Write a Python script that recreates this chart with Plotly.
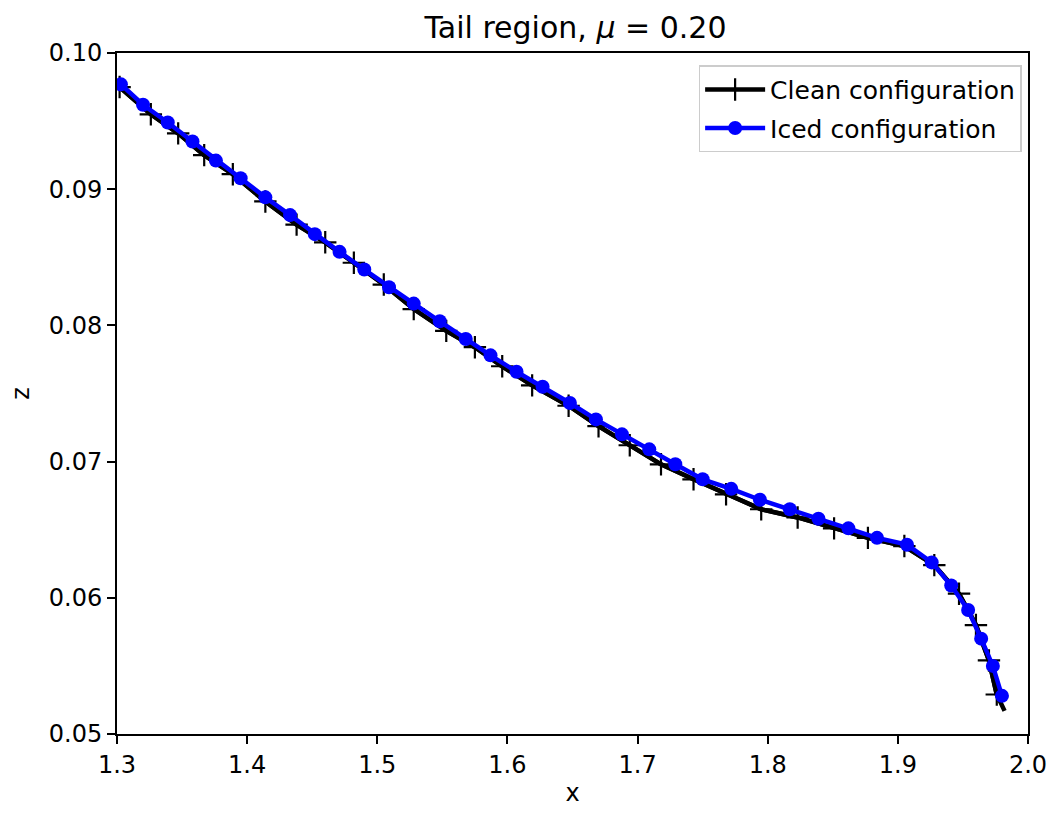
import plotly.graph_objects as go

# Clean configuration
clean_x = [1.302, 1.326, 1.347, 1.367, 1.389, 1.414, 1.438, 1.460, 1.482, 1.505,
           1.528, 1.553, 1.575, 1.596, 1.619, 1.647, 1.670, 1.694, 1.718, 1.743,
           1.768, 1.795, 1.823, 1.851, 1.877, 1.905, 1.928, 1.947, 1.960, 1.970,
           1.976, 1.982]
clean_z = [0.0975, 0.0955, 0.0941, 0.0925, 0.0911, 0.0891, 0.0874, 0.0861, 0.0846, 0.0830,
           0.0812, 0.0796, 0.0784, 0.0770, 0.0756, 0.0741, 0.0726, 0.0712, 0.0698, 0.0687,
           0.0676, 0.0665, 0.0659, 0.0651, 0.0644, 0.0638, 0.0624, 0.0603, 0.0580, 0.0554,
           0.0529, 0.0517]

# Iced configuration
iced_x = [1.303, 1.320, 1.339, 1.358, 1.376, 1.395, 1.414, 1.433, 1.452, 1.471,
          1.490, 1.509, 1.528, 1.548, 1.568, 1.587, 1.607, 1.627, 1.648, 1.668,
          1.688, 1.709, 1.729, 1.750, 1.772, 1.794, 1.817, 1.839, 1.862, 1.884,
          1.907, 1.926, 1.941, 1.954, 1.964, 1.973, 1.980]
iced_z = [0.0977, 0.0962, 0.0949, 0.0935, 0.0921, 0.0908, 0.0894, 0.0881, 0.0867, 0.0854,
          0.0841, 0.0828, 0.0816, 0.0803, 0.0790, 0.0778, 0.0766, 0.0755, 0.0743, 0.0731,
          0.0720, 0.0709, 0.0698, 0.0687, 0.0680, 0.0672, 0.0665, 0.0658, 0.0651, 0.0644,
          0.0639, 0.0626, 0.0609, 0.0591, 0.0570, 0.0550, 0.0528]

x_ticks = [1.3, 1.4, 1.5, 1.6, 1.7, 1.8, 1.9, 2.0]
z_ticks = [0.05, 0.06, 0.07, 0.08, 0.09, 0.10]

FONT = "DejaVu Sans"

fig = go.Figure()
# full clean line (line end has no visible marker)
fig.add_trace(go.Scatter(
    x=clean_x, y=clean_z, mode="lines", showlegend=False, legendgroup="clean",
    line=dict(color="black", width=4.5), hoverinfo="skip",
))
fig.add_trace(go.Scatter(
    x=clean_x[:-1], y=clean_z[:-1], mode="lines+markers", name="Clean configuration",
    legendgroup="clean",
    line=dict(color="black", width=4.5),
    marker=dict(symbol="cross-thin", size=16, color="black",
                line=dict(color="black", width=2.2)),
))
fig.add_trace(go.Scatter(
    x=iced_x, y=iced_z, mode="lines+markers", name="Iced configuration",
    legendgroup="iced",
    line=dict(color="#0000ff", width=4.5),
    marker=dict(symbol="circle", size=14, color="#0000ff"),
))

axis_common = dict(
    showgrid=False, zeroline=False, showline=True, linecolor="black", linewidth=2,
    mirror=True, ticks="outside", ticklen=8, tickwidth=2, tickcolor="black",
    tickfont=dict(family=FONT, size=24, color="black"),
)

fig.update_layout(
    width=1059, height=814,
    margin=dict(l=117, r=25, t=53, b=78),
    paper_bgcolor="white", plot_bgcolor="white",
    font=dict(family=FONT, color="black"),
    title=dict(text="Tail region, <i>μ</i> = 0.20", x=(117 + 1034) / 2 / 1059,
               xanchor="center", y=1 - 27 / 814, yanchor="middle",
               font=dict(family=FONT, size=30, color="black")),
    xaxis=dict(range=[1.3, 2.0], tickvals=x_ticks, tickformat=".1f",
               title=dict(text="x", font=dict(family=FONT, size=24), standoff=6),
               **axis_common),
    yaxis=dict(range=[0.05, 0.10], tickvals=z_ticks, tickformat=".2f",
               title=dict(text="z", font=dict(family=FONT, size=24), standoff=12),
               **axis_common),
    legend=dict(x=0.993, y=0.982, xanchor="right", yanchor="top",
                bgcolor="rgba(255,255,255,0.8)", bordercolor="#cccccc", borderwidth=1.5,
                font=dict(family=FONT, size=25, color="black"),
                itemwidth=60, tracegroupgap=3),
    showlegend=True,
)

fig.write_html("out.html")
